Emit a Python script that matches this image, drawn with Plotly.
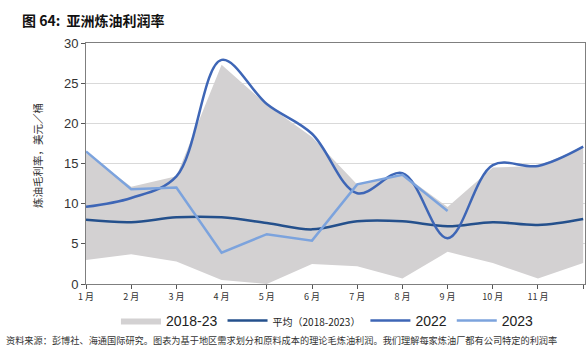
import plotly.graph_objects as go

months = ["1 月", "2 月", "3 月", "4 月", "5 月", "6 月",
          "7 月", "8 月", "9 月", "10 月", "11 月", "12 月"]

# 2018-2023 range of monthly refining margins (USD/bbl)
band_min = [3.0, 3.7, 2.8, 0.5, 0.0, 2.5, 2.2, 0.7, 4.0, 2.6, 0.7, 2.6]
band_max = [16.3, 12.1, 13.4, 27.3, 22.3, 18.3, 12.4, 13.7, 9.6, 14.5, 14.7, 17.0]

avg_2018_2023 = [8.0, 7.7, 8.3, 8.3, 7.6, 6.8, 7.8, 7.8, 7.2, 7.7, 7.35, 8.1]
y2022 = [9.6, 10.7, 13.4, 27.9, 22.4, 18.7, 11.3, 13.8, 5.7, 14.8, 14.7, 17.1]
y2023 = [16.5, 11.8, 12.0, 3.9, 6.2, 5.4, 12.4, 13.6, 9.1]

yticks = [0, 5, 10, 15, 20, 25, 30]

idx = list(range(len(months)))

BAND = "#d3d1d2"
AVG = "#24508c"
C2022 = "#3e66b6"
C2023 = "#7ca3dd"
CJK = "Noto Sans CJK SC"

fig = go.Figure()

fig.add_trace(go.Scatter(
    x=idx, y=band_min, mode="lines", line=dict(width=0, color=BAND),
    showlegend=False, hoverinfo="skip"))
fig.add_trace(go.Scatter(
    x=idx, y=band_max, mode="lines", line=dict(width=0, color=BAND),
    fill="tonexty", fillcolor=BAND, name="2018-23"))
fig.add_trace(go.Scatter(
    x=idx, y=avg_2018_2023, mode="lines",
    line=dict(color=AVG, width=2.5, shape="spline", smoothing=1),
    name="<span style='font-size:10px;font-family:Noto Sans CJK SC'>平均（2018-2023）</span>"))
fig.add_trace(go.Scatter(
    x=idx, y=y2022, mode="lines",
    line=dict(color=C2022, width=2.5, shape="spline", smoothing=1),
    name="2022"))
fig.add_trace(go.Scatter(
    x=idx[:len(y2023)], y=y2023, mode="lines",
    line=dict(color=C2023, width=2.5),
    name="2023"))

fig.update_layout(
    width=586, height=348,
    margin=dict(l=86, r=1, t=43, b=64),
    paper_bgcolor="white", plot_bgcolor="white",
    font=dict(family="Liberation Sans", color="#333333"),
    title=dict(text="<b>图 64:  亚洲炼油利润率</b>",
               x=22 / 586, xanchor="left", y=1 - 21 / 348, yanchor="middle",
               font=dict(family=CJK, size=14, color="#111111")),
    legend=dict(orientation="h", traceorder="normal",
                x=0.06, y=(284 - 321) / 241, xanchor="left", yanchor="middle",
                font=dict(family="Liberation Sans", size=14, color="#222222"),
                itemwidth=40, tracegroupgap=0, bgcolor="rgba(0,0,0,0)"),
    showlegend=True,
)

fig.update_xaxes(
    range=[0, 11.04], tickvals=idx, ticktext=months,
    showgrid=False, zeroline=False,
    showline=True, linecolor="#7f7f7f", linewidth=1, mirror=True,
    ticks="outside", ticklen=4, tickcolor="#555555",
    tickfont=dict(family=CJK, size=9, color="#333333"))
fig.update_yaxes(
    range=[0, 30], tickvals=yticks,
    showgrid=True, gridcolor="#d9d9d9", gridwidth=1, zeroline=False,
    showline=True, linecolor="#7f7f7f", linewidth=1, mirror=True,
    ticks="outside", ticklen=4, tickcolor="#555555",
    tickfont=dict(family="Liberation Sans", size=13, color="#333333"))

fig.add_annotation(
    text="炼油毛利率，美元／桶", textangle=-90,
    xref="paper", yref="paper", x=(37 - 86) / 499, y=(284 - 156) / 241,
    xanchor="center", yanchor="middle", showarrow=False,
    font=dict(family=CJK, size=10.5, color="#333333"))

fig.add_annotation(
    text="资料来源：彭博社、海通国际研究。图表为基于地区需求划分和原料成本的理论毛炼油利润。我们理解每家炼油厂都有公司特定的利润率",
    xref="paper", yref="paper", x=(4 - 86) / 499, y=(284 - 340) / 241,
    xanchor="left", yanchor="middle", showarrow=False,
    font=dict(family=CJK, size=9.2, color="#333333"))

fig.write_html("out.html")
